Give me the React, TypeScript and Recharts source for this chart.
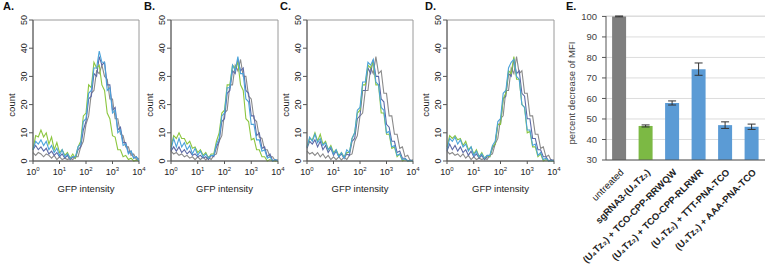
import React from 'react';
import {
  LineChart, Line, XAxis, YAxis, ReferenceArea,
  BarChart, Bar, Cell, ErrorBar, CartesianGrid,
} from 'recharts';

const FONT = '"Liberation Sans", Arial, sans-serif';

// log10(GFP intensity) bins
const gfpLog = [
  0, 0.1, 0.2, 0.3, 0.4, 0.5, 0.6, 0.7, 0.8, 0.9,
  1, 1.1, 1.2, 1.3, 1.4, 1.5, 1.6, 1.7, 1.8, 1.9,
  2, 2.1, 2.2, 2.3, 2.4, 2.5, 2.6, 2.7, 2.8, 2.9,
  3, 3.1, 3.2, 3.3, 3.4, 3.5, 3.6, 3.7, 3.8, 3.9, 4,
];

// panel A
const grayA = [3, 2, 3, 2.5, 1.5, 2.5, 2, 1, 2, 0.5, 1.5, 0.5, 1, 0.5, 1, 0.5, 1.5, 1.5, 5, 7, 13, 16, 24, 25, 32, 31, 34, 30, 29, 22, 22, 15, 15, 9.5, 9, 5, 5, 2, 2.5, 0.5, 1];
const purpleA = [4, 5.5, 4, 5, 3.5, 4.5, 2.5, 3.5, 2, 3, 1.5, 2.5, 1, 2, 0.5, 1.5, 1, 4, 5, 11, 14, 22, 23, 31, 30, 37, 34, 35, 27, 27, 18, 19, 11, 12, 6.5, 6.5, 3, 3.5, 1, 1.5, 0];
const greenA = [4, 9, 8.5, 11, 8.5, 10, 6, 8.5, 4, 6.5, 3, 4, 2, 3, 1, 2.5, 1, 5, 7, 16, 17, 27, 26, 35, 33, 34, 27, 25, 17, 15, 9, 8.5, 4, 4, 1.5, 2, 0.5, 1, 0, 0.3, 0];
const blueA = [4, 7, 6, 7.5, 5.5, 7, 4, 5.5, 3, 4.5, 2, 4, 1.5, 2.5, 1, 1.5, 1.5, 5, 6, 14, 15, 24, 25, 33, 33, 39, 35, 35, 25, 26, 17, 18, 10, 11, 5.5, 6, 2.5, 3.5, 1, 1.5, 0];

// panel B
const grayB = [3.5, 2.5, 3, 2, 2.5, 1.5, 2, 1, 1.5, 0.5, 1.5, 0.5, 1.5, 0.3, 1.5, 0.5, 2, 2.5, 7, 9, 17, 18, 27, 27, 34, 32, 36, 30, 30, 23, 22, 15, 14, 8.5, 8, 4, 4, 1.5, 1.5, 0, 0.5];
const purpleB = [3.5, 5, 3.5, 5, 3, 4, 2.5, 3.5, 2, 2.5, 1.5, 2, 1, 1.5, 0.5, 2, 1.5, 5, 7, 14, 15, 24, 25, 32, 31, 36, 32, 33, 25, 24, 16, 16, 9, 10, 4.5, 5, 1.5, 2.5, 0, 0.5, 0];
const greenB = [5, 9, 8, 10, 8, 8, 6, 7, 4.5, 5, 3, 4, 2, 3, 1, 2.5, 2.5, 7, 10, 17, 18, 27, 27, 34, 33, 35, 27, 25, 15, 14, 7.5, 8, 4, 4, 1.5, 1.5, 0, 0.5, 0, 0, 0];
const blueB = [4, 8, 5, 8, 5, 6.5, 4, 5.5, 2.5, 4.5, 2, 3.5, 1.5, 2.5, 1, 2, 2, 6, 8, 16, 17, 26, 26, 34, 32, 37, 31, 31, 22, 21, 13, 13, 7.5, 7.5, 3.5, 4, 1, 1.5, 0, 0.5, 0];

// panel C
const grayC = [3.5, 2.5, 3, 2, 3, 1.5, 2.5, 1, 2, 0.5, 1.5, 0.5, 1.5, 0.3, 1.5, 0.5, 2, 2.5, 7, 9, 16, 17, 25, 25, 33, 31, 37, 31, 32, 24, 24, 16, 16, 9.5, 9.5, 4.5, 5, 1.5, 2, 0, 0.5];
const purpleC = [4.5, 7, 6, 7.5, 5, 7, 4, 5.5, 3, 4.5, 2, 3.5, 1.5, 2.5, 1, 2.5, 2, 7, 8, 15, 16, 25, 25, 33, 31, 36, 30, 30, 22, 21, 13, 12, 7, 7, 3, 3.5, 1, 1, 0, 0.3, 0];
const greenC = [5, 8, 7.5, 10, 7, 9.5, 6, 7, 4, 5.5, 3, 4, 2, 3, 1.5, 3, 3, 8, 10, 17, 18, 27, 27, 34, 33, 35, 27, 27, 17, 17, 9.5, 9.5, 4.5, 5, 1.5, 2.5, 0, 0.5, 0, 0, 0];
const blueC = [5, 8.5, 7, 9.5, 6.5, 8, 5.5, 6.5, 4, 5, 2.5, 4, 1.5, 3, 1, 4, 3, 8, 10, 18, 19, 28, 28, 35, 34, 36, 28, 27, 19, 18, 10, 10.5, 5, 5.5, 2, 2.5, 0.5, 0.8, 0, 0.2, 0];

// panel D
const grayD = [3.5, 2.5, 3, 2, 2.5, 1.5, 2.5, 1, 2, 0.5, 1.5, 0.5, 1, 0.5, 1, 0.5, 2, 2.5, 6, 8, 15, 16, 25, 25, 33, 31, 37, 31, 32, 24, 24, 16, 16, 9.5, 9.5, 4.5, 5, 1.5, 2, 0, 0.5];
const purpleD = [3.5, 6, 4, 5.5, 3.5, 5, 3, 4, 2, 3.5, 1.5, 2.5, 1, 2, 0.5, 1.5, 1.5, 4.5, 6, 13, 13, 22, 23, 31, 30, 36, 31, 32, 24, 23, 15, 15, 8, 8, 4, 4, 1.5, 1.5, 0, 0.5, 0];
const greenD = [5, 9, 8, 9, 7.5, 8, 5.5, 7, 4, 5, 2.5, 4, 1.5, 3, 1, 2, 1.5, 5, 6, 13, 13, 22, 24, 32, 31, 37, 29, 29, 20, 19, 10, 10.5, 5, 5, 1.5, 2.5, 0, 0.5, 0, 0, 0];
const blueD = [4, 8, 7, 8.5, 6, 7.5, 5, 6, 3.5, 5, 2, 3.5, 1.5, 2.5, 1, 2, 2, 5.5, 7, 14, 15, 24, 25, 33, 35, 36, 30, 29, 20, 19, 11, 11, 5.5, 6, 2, 3, 0.5, 1, 0, 0.2, 0];

const decadeTicks = [0, 1, 2, 3, 4];
const countTicks = [0, 10, 20, 30, 40, 50];

// panel E
const treatments = [
  'untreated',
  'sgRNA3-(U₄Tz₂)',
  '(U₄Tz₂) + TCO-CPP-RRWQW',
  '(U₄Tz₂) + TCO-CPP-RLRWR',
  '(U₄Tz₂) + TTT-PNA-TCO',
  '(U₄Tz₂) + AAA-PNA-TCO',
];
const mfiDecrease = [100, 46.6, 57.8, 74.3, 47.0, 46.2];
const mfiError = [0.2, 0.5, 1.0, 3.0, 1.6, 1.3];
const percentTicks = [30, 40, 50, 60, 70, 80, 90, 100];

const barColors = ['#7f7f7f', '#7cb944', '#5b9bd5', '#5b9bd5', '#5b9bd5', '#5b9bd5'];

const panels = [
  { title: 'A.', titleX: 3, plotLeft: 33, plotWidth: 106, gray: grayA, purple: purpleA, green: greenA, blue: blueA },
  { title: 'B.', titleX: 144, plotLeft: 171, plotWidth: 107, gray: grayB, purple: purpleB, green: greenB, blue: blueB },
  { title: 'C.', titleX: 280, plotLeft: 307, plotWidth: 106, gray: grayC, purple: purpleC, green: greenC, blue: blueC },
  { title: 'D.', titleX: 425, plotLeft: 447, plotWidth: 107, gray: grayD, purple: purpleD, green: greenD, blue: blueD },
];

const Y_AXIS_W = 33;

function PowerTick({ x, y, payload }: any) {
  return (
    <text x={x} y={y + 9} textAnchor="middle" fontSize={9} fill="#222" fontFamily={FONT}>
      10<tspan dy={-4} fontSize={6}>{payload.value}</tspan>
    </text>
  );
}

function CountTick({ x, y, payload }: any) {
  return (
    <text transform={`translate(${x},${y}) rotate(-90)`} textAnchor="middle" fontSize={9} fill="#222" fontFamily={FONT}>
      {payload.value}
    </text>
  );
}

function Histogram({ panel }: { panel: typeof panels[number] }) {
  const rows = gfpLog.map((v, i) => ({
    x: v,
    gray: panel.gray[i],
    purple: panel.purple[i],
    green: panel.green[i],
    blue: panel.blue[i],
  }));
  const chartW = Y_AXIS_W + panel.plotWidth + 12;
  const midX = Y_AXIS_W + panel.plotWidth / 2;
  return (
    <>
      <div style={{ position: 'absolute', left: panel.titleX, top: 0, fontFamily: FONT, fontWeight: 'bold', fontSize: 11, lineHeight: '13px', color: '#111' }}>
        {panel.title}
      </div>
      <div style={{ position: 'absolute', left: panel.plotLeft - Y_AXIS_W, top: 0 }}>
        <LineChart width={chartW} height={200} data={rows} margin={{ top: 20, right: 12, bottom: 0, left: 0 }}>
          <ReferenceArea x1={0} x2={4} y1={0} y2={50} fill="none" stroke="#9a9a9a" strokeWidth={1} />
          <XAxis
            dataKey="x" type="number" domain={[0, 4]} ticks={decadeTicks} height={39}
            tick={<PowerTick />} tickSize={3} stroke="#555" interval={0}
            label={() => (
              <text x={midX} y={192} textAnchor="middle" fontSize={9.5} fill="#222" fontFamily={FONT}>GFP intensity</text>
            )}
          />
          <YAxis
            type="number" domain={[0, 50]} ticks={countTicks} width={Y_AXIS_W}
            tick={<CountTick />} tickSize={4} stroke="#555" interval={0}
            label={() => (
              <text transform={`translate(15,105) rotate(-90)`} textAnchor="middle" fontSize={9.5} fill="#222" fontFamily={FONT}>count</text>
            )}
          />
          <Line dataKey="gray" stroke="#8a8a8a" strokeWidth={1.1} dot={false} isAnimationActive={false} />
          <Line dataKey="purple" stroke="#5d6aa6" strokeWidth={1.1} dot={false} isAnimationActive={false} />
          <Line dataKey="green" stroke="#8cc63f" strokeWidth={1.1} dot={false} isAnimationActive={false} />
          <Line dataKey="blue" stroke="#4ba3da" strokeWidth={1.1} dot={false} isAnimationActive={false} />
        </LineChart>
      </div>
    </>
  );
}

function TreatmentTick({ x, y, payload }: any) {
  const plain = payload.value === 'untreated';
  return (
    <text
      transform={`translate(${x + 5},${y + 11}) rotate(-45)`}
      textAnchor="end" fontSize={9.5} fontWeight={plain ? 'normal' : 'bold'} fill="#222" fontFamily={FONT}
    >
      {payload.value}
    </text>
  );
}

function MfiBars() {
  const rows = treatments.map((t, i) => ({ name: t, value: mfiDecrease[i], err: mfiError[i] }));
  return (
    <>
      <div style={{ position: 'absolute', left: 566, top: 0, fontFamily: FONT, fontWeight: 'bold', fontSize: 11, lineHeight: '13px', color: '#111' }}>
        E.
      </div>
      <div style={{ position: 'absolute', left: 540, top: 0 }}>
        <BarChart width={225} height={266} data={rows} margin={{ top: 16, right: 0, bottom: 0, left: 0 }} barCategoryGap="23%">
          <CartesianGrid vertical={false} stroke="#dcdcdc" />
          <XAxis dataKey="name" height={106} interval={0} tickLine={false} tickSize={0} stroke="#555" tick={<TreatmentTick />} />
          <YAxis
            type="number" domain={[30, 100]} ticks={percentTicks} width={66} interval={0}
            tickSize={4} tickMargin={5} stroke="#555" tick={{ fontSize: 9.5, fill: '#444', fontFamily: FONT }}
            label={() => (
              <text transform={`translate(35,93) rotate(-90)`} textAnchor="middle" fontSize={9.5} fill="#444" fontFamily={FONT}>
                percent decrease of MFI
              </text>
            )}
          />
          <Bar dataKey="value" isAnimationActive={false}>
            {rows.map((r, i) => <Cell key={r.name} fill={barColors[i]} />)}
            <ErrorBar dataKey="err" width={4} stroke="#333" strokeWidth={1} />
          </Bar>
        </BarChart>
      </div>
    </>
  );
}

export default function App() {
  return (
    <div style={{ position: 'absolute', left: 0, top: 0, width: 765, height: 266, background: '#fff', overflow: 'hidden' }}>
      {panels.map(p => <Histogram key={p.title} panel={p} />)}
      <MfiBars />
    </div>
  );
}
